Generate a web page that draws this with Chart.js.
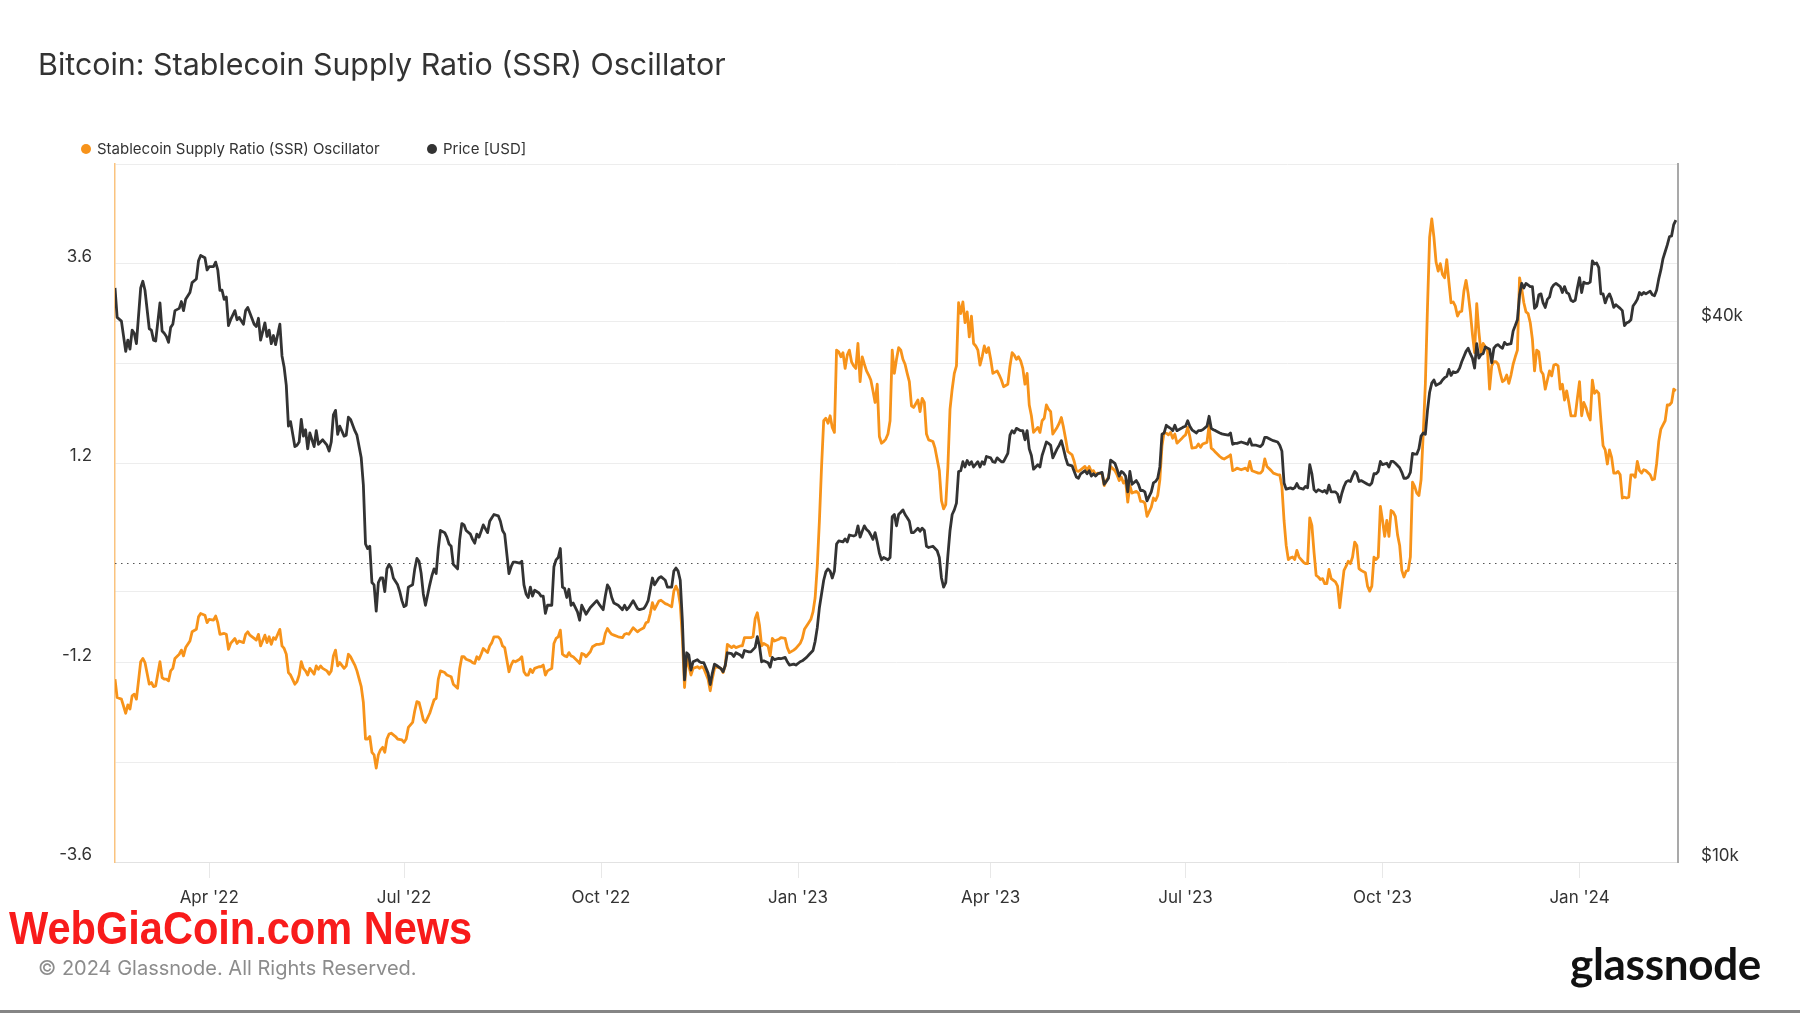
<!DOCTYPE html>
<html>
<head>
<meta charset="utf-8">
<title>Bitcoin: Stablecoin Supply Ratio (SSR) Oscillator</title>
<script src="https://cdn.jsdelivr.net/npm/chart.js@4.4.0/dist/chart.umd.min.js"></script>
<style>
  html, body { margin: 0; padding: 0; background: #fff; }
  #page { position: relative; width: 1800px; height: 1013px; overflow: hidden; font-family: Inter, "Noto Sans", sans-serif; color: #333; }
  #chart { position: absolute; left: 0; top: 0; }
  .title { position: absolute; left: 38px; top: 46px; font-size: 30.4px; line-height: 36px; color: #333; white-space: nowrap; }
  .legend { position: absolute; top: 140px; font-size: 15px; line-height: 18px; color: #333; white-space: nowrap; }
  .legend .dot { position: absolute; left: -16px; top: 4px; width: 10px; height: 10px; border-radius: 50%; }
  .brand { position: absolute; left: 9px; top: 905px; font-family: "Liberation Sans", "DejaVu Sans", sans-serif; font-weight: bold; font-size: 46px; line-height: 46px; color: #f81b1b; transform-origin: left center; white-space: nowrap; }
  .copy { position: absolute; left: 38px; top: 956px; font-size: 20px; line-height: 24px; color: #8c8c8c; white-space: nowrap; }
  .logo { position: absolute; left: 1570px; top: 938px; font-family: Lato, "Open Sans", sans-serif; font-weight: 700; font-size: 44px; line-height: 50px; color: #111; white-space: nowrap; letter-spacing: -0.3px; }
  .rule { position: absolute; left: 0; top: 1010px; width: 1800px; height: 3px; background: #858585; }
</style>
</head>
<body>
<div id="page">
  <canvas id="chart" width="1800" height="1013"></canvas>
  <div class="title">Bitcoin: Stablecoin Supply Ratio (SSR) Oscillator</div>
  <div class="legend" style="left:97px"><span class="dot" style="background:#f7931a"></span>Stablecoin Supply Ratio (SSR) Oscillator</div>
  <div class="legend" style="left:443px"><span class="dot" style="background:#333"></span>Price [USD]</div>
  <div class="brand" id="brand">WebGiaCoin.com News</div>
  <div class="copy">© 2024 Glassnode. All Rights Reserved.</div>
  <div class="logo">glassnode</div>
  <div class="rule"></div>
</div>
<script>
// days counted from the first day shown on the chart
const startDate = "2022-02-16";
const endDate = "2024-02-16";

// x axis labels
const xTickDates = ["2022-04-01", "2022-07-01", "2022-10-01", "2023-01-01", "2023-04-01", "2023-07-01", "2023-10-01", "2024-01-01"];
const xTickLabels = ["Apr '22", "Jul '22", "Oct '22", "Jan '23", "Apr '23", "Jul '23", "Oct '23", "Jan '24"];

// left axis (oscillator)
const ssrGridValues = [-3.6, -2.4, -1.2, 0, 1.2, 2.4, 3.6, 4.8];
const ssrTickLabels = [3.6, 1.2, -1.2, -3.6];

// right axis (price, log)
const priceTickValues = [10000, 20000, 40000];
const priceTickText = ["$10k", "", "$40k"];

// Price [USD]
const priceDays = [
  0, 1, 3, 5, 6, 7, 8, 9, 10, 12,
  13, 14, 16, 17, 18, 19, 21, 22, 23, 24,
  25, 26, 27, 28, 30, 31, 32, 33, 35, 36,
  38, 39, 40, 42, 43, 44, 46, 47, 48, 49,
  50, 51, 52, 53, 54, 56, 57, 58, 60, 61,
  62, 63, 65, 66, 67, 68, 70, 71, 72, 73,
  74, 75, 77, 78, 79, 80, 81, 82, 84, 85,
  86, 87, 88, 89, 90, 91, 93, 94, 95, 96,
  97, 99, 100, 101, 102, 103, 104, 105, 107, 108,
  109, 110, 112, 113, 115, 116, 117, 118, 119, 120,
  121, 122, 123, 124, 125, 126, 127, 128, 129, 130,
  132, 133, 134, 135, 136, 137, 139, 140, 141, 142,
  143, 144, 145, 147, 148, 149, 150, 151, 152, 154,
  155, 156, 157, 158, 160, 161, 162, 163, 164, 166,
  167, 168, 169, 170, 171, 172, 174, 175, 176, 177,
  179, 180, 181, 182, 184, 185, 186, 187, 189, 190,
  191, 192, 193, 194, 195, 196, 198, 199, 200, 201,
  202, 204, 205, 206, 207, 208, 209, 210, 211, 212,
  213, 214, 216, 217, 218, 219, 220, 222, 223, 225,
  226, 228, 229, 230, 231, 232, 233, 235, 237, 238,
  239, 240, 242, 244, 245, 247, 248, 249, 250, 251,
  252, 254, 255, 257, 258, 260, 261, 262, 263, 264,
  265, 266, 267, 268, 269, 270, 272, 273, 274, 275,
  277, 278, 279, 280, 281, 283, 284, 285, 286, 288,
  289, 290, 292, 293, 294, 296, 297, 299, 300, 301,
  302, 303, 305, 306, 307, 308, 310, 311, 313, 314,
  315, 317, 318, 320, 321, 323, 324, 326, 327, 328,
  329, 331, 332, 333, 334, 335, 336, 337, 338, 340,
  341, 342, 343, 345, 346, 347, 348, 349, 350, 351,
  352, 353, 354, 355, 356, 357, 358, 359, 361, 362,
  363, 364, 365, 366, 367, 368, 369, 370, 371, 372,
  373, 375, 376, 377, 378, 379, 380, 382, 384, 385,
  386, 387, 388, 389, 390, 391, 392, 393, 394, 395,
  396, 397, 398, 399, 400, 401, 403, 404, 405, 406,
  407, 409, 410, 411, 412, 414, 415, 417, 418, 419,
  420, 421, 423, 424, 425, 426, 427, 428, 429, 430,
  431, 432, 433, 434, 435, 436, 437, 438, 440, 441,
  442, 443, 444, 445, 447, 448, 449, 450, 451, 453,
  454, 455, 456, 457, 458, 459, 461, 462, 463, 464,
  465, 467, 468, 469, 470, 471, 472, 473, 474, 475,
  477, 478, 479, 480, 481, 482, 484, 485, 486, 487,
  488, 489, 490, 491, 492, 493, 494, 495, 496, 498,
  499, 500, 501, 502, 503, 505, 506, 507, 508, 510,
  511, 512, 513, 514, 516, 517, 518, 520, 521, 522,
  523, 524, 526, 528, 529, 530, 531, 533, 535, 536,
  537, 538, 540, 541, 543, 544, 545, 546, 547, 549,
  550, 551, 552, 553, 555, 556, 557, 558, 559, 560,
  561, 562, 564, 565, 566, 567, 568, 570, 571, 572,
  573, 574, 575, 576, 577, 578, 579, 580, 581, 582,
  584, 585, 586, 587, 588, 589, 590, 591, 592, 594,
  595, 596, 597, 598, 600, 601, 602, 603, 604, 605,
  606, 607, 608, 609, 610, 611, 612, 613, 614, 615,
  616, 617, 619, 620, 621, 622, 623, 624, 625, 626,
  627, 628, 629, 631, 632, 633, 634, 635, 636, 637,
  638, 639, 640, 642, 643, 644, 645, 646, 647, 648,
  649, 650, 652, 653, 654, 655, 656, 657, 658, 659,
  661, 662, 663, 664, 665, 666, 667, 668, 669, 670,
  671, 672, 673, 675, 676, 677, 678, 679, 680, 681,
  682, 683, 684, 685, 686, 687, 688, 689, 690, 691,
  692, 693, 694, 695, 696, 697, 698, 699, 700, 701,
  703, 704, 705, 706, 707, 708, 709, 710, 711, 712,
  713, 714, 715, 717, 718, 719, 720, 721, 722, 723,
  724, 725, 726, 727, 728, 729
];
const priceUsd = [
  43650, 40470, 40090, 37090, 38180, 37300, 39170, 38850, 37830, 43650,
  44410, 43390, 39310, 39170, 38180, 38090, 42000, 39080, 38850, 38540,
  37960, 39450, 39770, 41180, 41420, 42150, 41180, 42390, 43140, 44250,
  44670, 46800, 47450, 47180, 45720, 46100, 46100, 46640, 45720, 43390,
  43390, 42390, 42640, 39630, 40230, 41180, 40230, 40470, 39770, 41180,
  41520, 40940, 39770, 39540, 40380, 38180, 39910, 38540, 39170, 37830,
  38630, 37740, 39770, 36660, 35610, 33990, 30610, 30970, 29050, 29150,
  29390, 31150, 29840, 30330, 28880, 30080, 29050, 30260, 29220, 29390,
  29560, 29150, 28710, 29390, 31510, 31880, 29980, 30610, 29840, 29910,
  31330, 31150, 30260, 29910, 28220, 26310, 22620, 22360, 22490, 20490,
  20370, 19040, 20490, 20730, 20730, 20020, 21220, 21470, 21270, 20730,
  20370, 20020, 19560, 19260, 19330, 20250, 20370, 21220, 21800, 21640,
  20970, 19900, 19330, 20370, 20850, 21220, 20970, 22360, 23420, 23290,
  23020, 22620, 22490, 21470, 21220, 22890, 23840, 23760, 23420, 23200,
  22890, 22670, 23200, 23020, 23370, 23760, 23290, 23980, 24200, 24400,
  24320, 23980, 23420, 23200, 20970, 21340, 21590, 21590, 21540, 21640,
  20370, 19900, 19720, 20250, 19790, 20090, 19950, 19790, 19790, 18930,
  19330, 19330, 21340, 21720, 21850, 22360, 20250, 20180, 19720, 20140,
  19330, 19440, 19000, 18600, 19330, 19110, 18890, 19220, 19330, 19560,
  19400, 19110, 19790, 20370, 20180, 19720, 19440, 19330, 19110, 19330,
  19110, 19220, 19560, 19170, 19110, 19170, 19330, 19560, 20140, 20730,
  20370, 20730, 20800, 20610, 20250, 20250, 21100, 21270, 21100, 20610,
  18560, 15960, 17110, 17010, 16370, 16720, 16810, 16720, 16680, 16680,
  16240, 15770, 16240, 16620, 16560, 16430, 16300, 16560, 17110, 17070,
  16950, 17110, 17010, 16910, 17210, 17150, 17150, 17350, 17830, 17410,
  16720, 16760, 16680, 16490, 16910, 16810, 16870, 16850, 16910, 16720,
  16580, 16620, 16580, 16720, 16760, 16910, 17010, 17210, 17620, 18250,
  19220, 20610, 21060, 21220, 21100, 20730, 21100, 22620, 22800, 22740,
  22920, 22740, 23150, 23090, 23150, 23700, 23020, 23370, 23700, 23480,
  23370, 23150, 22890, 23290, 22740, 22100, 21720, 21850, 21720, 21850,
  24260, 24400, 23700, 24400, 24540, 24690, 24400, 24200, 23980, 23290,
  23290, 23560, 23370, 23560, 23420, 22490, 22420, 22490, 22230, 21850,
  20730, 20250, 20490, 21970, 23420, 24400, 24690, 25120, 27250, 27300,
  27940, 27570, 28030, 27730, 27940, 27570, 27940, 27570, 27940, 27760,
  28320, 28220, 27940, 27890, 28220, 27940, 27940, 28550, 29910, 30260,
  30080, 30440, 30260, 30260, 29560, 30260, 28880, 28390, 27410, 27570,
  27730, 27570, 28390, 28880, 29390, 29290, 29150, 28220, 28880, 29150,
  29490, 28880, 28220, 27730, 27650, 27250, 26870, 26780, 27090, 27300,
  27090, 27300, 26930, 27090, 26930, 27090, 27190, 26370, 26560, 26780,
  28060, 27830, 27410, 26930, 27250, 27150, 26930, 25860, 27250, 26370,
  26620, 26370, 25950, 25950, 25860, 25270, 25860, 26460, 26560, 26780,
  27570, 29980, 30080, 30680, 30540, 30440, 30260, 30680, 30260, 30440,
  30540, 30610, 31040, 30610, 30330, 30080, 30260, 30260, 30330, 30610,
  31400, 30440, 30330, 30260, 30080, 30010, 29980, 29910, 30080, 29220,
  29290, 29290, 29390, 29290, 29220, 29630, 29150, 29150, 29050, 29220,
  29740, 29740, 29560, 29490, 29390, 29150, 28710, 26460, 26040, 26130,
  26060, 26130, 26420, 26130, 26040, 26220, 26130, 27730, 27090, 26010,
  25860, 26010, 25860, 25950, 25770, 26310, 25860, 25860, 25710, 25180,
  25770, 26220, 26530, 26620, 26560, 26930, 27250, 27090, 26560, 26620,
  26460, 26370, 26310, 26460, 27090, 27090, 27250, 27960, 27730, 27830,
  27570, 27960, 27960, 27830, 27510, 27190, 26780, 26780, 26870, 27190,
  28550, 28490, 28490, 28880, 29840, 30080, 29980, 31880, 33400, 34190,
  34470, 33990, 34190, 34470, 34670, 34790, 35410, 34870, 35200, 35120,
  35200, 35530, 36120, 37090, 37390, 36870, 36450, 35530, 37830, 36450,
  36790, 36870, 37520, 37300, 36020, 37390, 37650, 37740, 37520, 37390,
  37960, 37740, 37830, 39080, 39630, 40230, 42890, 44160, 43640, 44160,
  43800, 43800, 41420, 41670, 42890, 42990, 42000, 41520, 42390, 42640,
  43640, 44000, 44160, 43800, 43140, 43800, 43140, 42990, 42290, 42150,
  42290, 43640, 44830, 43140, 44310, 44160, 44160, 44310, 46800, 46420,
  46530, 45990, 42990, 42990, 42000, 42640, 42990, 42390, 41520, 41810,
  41420, 41180, 39630, 39910, 40000, 40230, 41670, 42000, 42390, 43140,
  42890, 43140, 42990, 43290, 42890, 42790, 43390, 44670, 45720, 47070,
  47900, 48750, 49780, 49890, 51360, 51960
];

// Stablecoin Supply Ratio (SSR) Oscillator
const ssrDays = [
  0, 1, 3, 5, 6, 7, 8, 9, 10, 12,
  13, 14, 16, 17, 18, 19, 21, 22, 23, 24,
  25, 26, 27, 28, 30, 31, 32, 33, 35, 36,
  38, 39, 40, 42, 43, 44, 46, 47, 48, 49,
  51, 52, 53, 54, 56, 57, 58, 60, 61, 62,
  63, 65, 66, 67, 68, 70, 71, 72, 73, 74,
  75, 77, 78, 79, 80, 81, 82, 84, 85, 86,
  87, 88, 89, 90, 91, 93, 94, 95, 96, 97,
  99, 100, 101, 102, 103, 104, 105, 107, 108, 109,
  110, 112, 113, 115, 116, 117, 118, 119, 120, 121,
  122, 123, 124, 125, 126, 127, 128, 129, 131, 132,
  134, 135, 136, 137, 139, 140, 141, 142, 143, 144,
  145, 147, 148, 149, 150, 151, 152, 154, 155, 157,
  158, 160, 161, 162, 163, 164, 166, 167, 168, 169,
  170, 171, 172, 174, 175, 176, 177, 179, 180, 181,
  182, 184, 185, 186, 187, 189, 190, 191, 192, 193,
  194, 195, 196, 198, 199, 200, 201, 202, 204, 205,
  206, 207, 208, 209, 210, 211, 212, 213, 214, 216,
  217, 218, 219, 220, 222, 223, 225, 226, 228, 229,
  230, 231, 232, 233, 235, 237, 238, 239, 240, 242,
  244, 245, 247, 248, 249, 250, 251, 252, 254, 255,
  257, 258, 260, 261, 262, 263, 264, 265, 266, 267,
  268, 269, 270, 272, 273, 274, 275, 277, 278, 279,
  280, 281, 283, 284, 285, 286, 288, 289, 290, 292,
  293, 294, 296, 297, 298, 299, 300, 301, 302, 303,
  305, 306, 307, 308, 310, 311, 313, 314, 315, 317,
  318, 320, 321, 322, 324, 325, 326, 327, 328, 329,
  330, 331, 332, 333, 334, 335, 336, 337, 338, 339,
  340, 341, 342, 343, 344, 345, 346, 347, 348, 349,
  350, 351, 352, 353, 354, 355, 356, 357, 358, 359,
  360, 361, 362, 363, 364, 365, 366, 367, 368, 369,
  370, 371, 372, 373, 375, 376, 377, 378, 379, 380,
  382, 383, 385, 386, 387, 388, 389, 390, 391, 392,
  393, 394, 395, 396, 397, 398, 399, 400, 401, 402,
  403, 404, 405, 406, 407, 408, 409, 410, 412, 413,
  414, 415, 417, 418, 419, 420, 421, 422, 423, 424,
  425, 426, 427, 428, 429, 430, 431, 432, 433, 434,
  435, 436, 437, 438, 440, 441, 442, 443, 444, 445,
  447, 448, 449, 450, 451, 453, 454, 455, 456, 457,
  458, 459, 461, 462, 463, 464, 465, 467, 468, 469,
  470, 471, 472, 473, 474, 475, 477, 478, 479, 480,
  481, 482, 484, 485, 486, 487, 488, 489, 490, 491,
  492, 493, 494, 495, 496, 498, 499, 500, 501, 502,
  503, 505, 506, 507, 508, 510, 511, 512, 513, 514,
  516, 517, 518, 520, 521, 522, 523, 524, 526, 528,
  529, 530, 531, 532, 534, 535, 536, 537, 538, 540,
  541, 543, 544, 545, 546, 547, 548, 549, 550, 551,
  552, 553, 555, 556, 557, 558, 559, 560, 561, 562,
  563, 564, 565, 566, 567, 568, 570, 571, 572, 573,
  574, 575, 576, 577, 578, 579, 580, 581, 582, 584,
  585, 586, 587, 588, 589, 590, 591, 592, 593, 594,
  595, 596, 597, 598, 599, 600, 601, 602, 603, 604,
  605, 606, 607, 608, 609, 610, 611, 612, 613, 614,
  615, 616, 617, 618, 619, 620, 621, 622, 623, 624,
  625, 626, 627, 628, 629, 630, 631, 632, 633, 634,
  635, 636, 637, 638, 639, 640, 641, 642, 643, 644,
  645, 646, 647, 648, 649, 650, 651, 652, 653, 654,
  655, 656, 657, 658, 659, 660, 661, 662, 663, 664,
  665, 666, 667, 668, 669, 670, 671, 672, 673, 674,
  675, 676, 677, 678, 679, 680, 681, 682, 683, 684,
  685, 686, 687, 688, 689, 690, 691, 692, 693, 694,
  695, 696, 697, 698, 699, 700, 701, 702, 703, 704,
  705, 706, 707, 708, 709, 710, 711, 712, 713, 714,
  715, 717, 718, 719, 720, 721, 722, 723, 724, 725,
  726, 727, 728, 729
];
const ssrValues = [
  -1.40, -1.62, -1.64, -1.81, -1.71, -1.76, -1.60, -1.58, -1.64, -1.19,
  -1.15, -1.20, -1.46, -1.44, -1.49, -1.48, -1.19, -1.38, -1.40, -1.40,
  -1.42, -1.30, -1.27, -1.15, -1.10, -1.05, -1.12, -1.02, -0.94, -0.83,
  -0.80, -0.65, -0.61, -0.63, -0.72, -0.68, -0.69, -0.64, -0.72, -0.86,
  -0.85, -0.86, -1.04, -0.97, -0.91, -0.97, -0.94, -0.96, -0.86, -0.83,
  -0.87, -0.91, -0.93, -0.86, -1.00, -0.87, -0.96, -0.89, -0.98, -0.90,
  -0.92, -0.80, -1.00, -1.03, -1.10, -1.32, -1.35, -1.46, -1.43, -1.35,
  -1.19, -1.27, -1.30, -1.35, -1.27, -1.34, -1.24, -1.28, -1.24, -1.27,
  -1.30, -1.34, -1.30, -1.12, -1.05, -1.24, -1.20, -1.27, -1.24, -1.10,
  -1.13, -1.23, -1.30, -1.49, -1.68, -2.12, -2.12, -2.09, -2.28, -2.31,
  -2.47, -2.31, -2.25, -2.22, -2.28, -2.12, -2.06, -2.05, -2.09, -2.12,
  -2.13, -2.16, -2.12, -1.98, -1.92, -1.78, -1.67, -1.68, -1.78, -1.89,
  -1.92, -1.81, -1.73, -1.65, -1.63, -1.40, -1.30, -1.32, -1.35, -1.37,
  -1.46, -1.51, -1.27, -1.13, -1.13, -1.16, -1.18, -1.20, -1.21, -1.13,
  -1.16, -1.10, -1.03, -1.08, -1.00, -0.96, -0.89, -0.89, -0.92, -1.00,
  -1.02, -1.31, -1.23, -1.18, -1.19, -1.16, -1.13, -1.31, -1.35, -1.35,
  -1.28, -1.32, -1.27, -1.25, -1.25, -1.23, -1.35, -1.30, -1.27, -0.97,
  -0.91, -0.89, -0.81, -1.10, -1.12, -1.13, -1.08, -1.12, -1.13, -1.18,
  -1.21, -1.09, -1.10, -1.13, -1.07, -1.01, -0.98, -0.98, -0.97, -0.85,
  -0.79, -0.83, -0.86, -0.87, -0.89, -0.90, -0.86, -0.85, -0.86, -0.78,
  -0.83, -0.81, -0.78, -0.72, -0.71, -0.61, -0.48, -0.56, -0.46, -0.45,
  -0.49, -0.50, -0.53, -0.34, -0.28, -0.34, -0.50, -0.91, -1.50, -1.13,
  -1.24, -1.35, -1.27, -1.25, -1.27, -1.25, -1.27, -1.40, -1.54, -1.39,
  -1.27, -1.25, -1.27, -1.32, -1.24, -0.98, -1.02, -1.00, -1.02, -1.00,
  -1.00, -0.90, -0.90, -0.90, -0.89, -0.67, -0.60, -0.75, -1.00, -0.97,
  -1.00, -1.12, -0.91, -0.94, -0.92, -0.90, -0.91, -1.02, -1.08, -1.05,
  -1.03, -0.97, -0.91, -0.80, -0.72, -0.68, -0.59, -0.42, -0.04, 0.51,
  1.16, 1.71, 1.74, 1.68, 1.77, 1.63, 1.57, 2.56, 2.54, 2.48,
  2.53, 2.34, 2.50, 2.56, 2.42, 2.37, 2.34, 2.64, 2.18, 2.48,
  2.39, 2.31, 2.26, 2.20, 2.07, 1.93, 2.15, 1.52, 1.44, 1.46,
  1.49, 1.55, 1.71, 2.56, 2.28, 2.45, 2.59, 2.56, 2.45, 2.39,
  2.28, 2.18, 1.89, 1.87, 1.96, 1.82, 1.98, 1.93, 1.55, 1.48,
  1.46, 1.38, 1.11, 0.75, 0.65, 0.70, 1.16, 1.85, 2.09, 2.28,
  2.37, 3.13, 3.00, 3.14, 2.89, 3.02, 2.72, 2.97, 2.64, 2.61,
  2.56, 2.38, 2.48, 2.61, 2.53, 2.59, 2.45, 2.28, 2.31, 2.26,
  2.20, 2.12, 2.15, 2.37, 2.53, 2.50, 2.45, 2.48, 2.43, 2.34,
  2.15, 2.28, 1.90, 1.77, 1.57, 1.60, 1.63, 1.57, 1.71, 1.74,
  1.90, 1.85, 1.82, 1.55, 1.63, 1.68, 1.75, 1.63, 1.49, 1.34,
  1.30, 1.22, 1.11, 1.10, 1.12, 1.16, 1.11, 1.16, 1.10, 1.11,
  1.06, 1.08, 1.07, 0.93, 0.99, 1.03, 1.16, 1.11, 1.06, 0.99,
  1.03, 0.96, 0.99, 0.73, 0.93, 0.84, 0.86, 0.84, 0.74, 0.74,
  0.72, 0.56, 0.67, 0.78, 0.75, 0.81, 1.00, 1.41, 1.57, 1.56,
  1.54, 1.57, 1.50, 1.55, 1.44, 1.49, 1.52, 1.54, 1.63, 1.52,
  1.38, 1.39, 1.43, 1.39, 1.43, 1.45, 1.66, 1.38, 1.36, 1.33,
  1.28, 1.26, 1.25, 1.28, 1.30, 1.11, 1.12, 1.14, 1.12, 1.14,
  1.11, 1.22, 1.11, 1.10, 1.08, 1.08, 1.11, 1.25, 1.16, 1.11,
  1.08, 1.06, 1.06, 0.92, 0.51, 0.21, 0.04, 0.06, 0.07, 0.04,
  0.15, 0.07, 0.01, -0.01, -0.01, 0.54, 0.45, 0.13, -0.15, -0.17,
  -0.20, -0.19, -0.25, -0.25, -0.08, -0.19, -0.23, -0.28, -0.54, -0.31,
  -0.09, -0.04, 0.02, -0.01, 0.07, 0.25, 0.21, -0.07, -0.09, -0.12,
  -0.28, -0.34, -0.28, 0.07, 0.04, 0.07, 0.68, 0.51, 0.32, 0.51,
  0.32, 0.63, 0.61, 0.56, 0.34, 0.21, -0.09, -0.17, -0.10, -0.09,
  0.07, 0.97, 0.92, 0.84, 0.81, 1.00, 1.55, 2.15, 3.08, 3.92,
  4.14, 3.92, 3.62, 3.51, 3.60, 3.47, 3.43, 3.65, 3.38, 3.13,
  3.14, 3.09, 2.97, 3.02, 3.03, 3.27, 3.40, 3.24, 3.02, 2.75,
  2.53, 3.12, 2.78, 2.53, 2.64, 2.60, 2.56, 2.09, 2.37, 2.42,
  2.42, 2.39, 2.28, 2.18, 2.20, 2.26, 2.16, 2.26, 2.39, 2.48,
  2.56, 3.43, 3.30, 3.13, 3.02, 3.00, 2.89, 2.69, 2.31, 2.56,
  2.54, 2.31, 2.27, 2.09, 2.20, 2.31, 2.25, 2.38, 2.39, 2.37,
  2.09, 2.15, 1.96, 2.07, 1.93, 1.77, 1.77, 1.77, 1.98, 2.18,
  1.77, 1.93, 1.87, 1.78, 1.72, 2.20, 2.04, 2.07, 2.04, 1.71,
  1.41, 1.36, 1.19, 1.36, 1.27, 1.08, 1.08, 1.10, 1.06, 0.78,
  0.79, 0.78, 0.79, 1.06, 1.06, 1.03, 1.22, 1.11, 1.08, 1.12,
  1.11, 1.06, 1.00, 1.01, 1.19, 1.46, 1.61, 1.66, 1.71, 1.90,
  1.90, 1.93, 2.09, 2.07
];

const DAY = 86400000;
function dayOf(dateStr) {
  return Math.round((Date.parse(dateStr) - Date.parse(startDate)) / DAY);
}
const xTickDays = xTickDates.map(dayOf);

// squeeze the red banner text to the width it has in the picture
const brand = document.getElementById("brand");
brand.style.transform = "scaleX(" + (463 / brand.offsetWidth).toFixed(3) + ")";

// dotted zero line of the oscillator
const zeroLine = {
  id: "zeroLine",
  beforeDatasetsDraw(chart) {
    const { ctx, chartArea, scales } = chart;
    const y = Math.round(scales.y.getPixelForValue(0)) + 0.5;
    ctx.save();
    ctx.strokeStyle = "#555555";
    ctx.lineWidth = 1;
    ctx.setLineDash([1.5, 4.5]);
    ctx.beginPath();
    ctx.moveTo(chartArea.left, y);
    ctx.lineTo(chartArea.right, y);
    ctx.stroke();
    ctx.restore();
  }
};

Chart.defaults.font.family = "Inter, 'Noto Sans', sans-serif";
Chart.defaults.color = "#333";

const ctx = document.getElementById("chart").getContext("2d");
const chart = new Chart(ctx, {
  type: "line",
  data: {
    datasets: [
      {
        label: "Price [USD]",
        data: priceDays.map((d, i) => ({ x: d, y: priceUsd[i] })),
        yAxisID: "price",
        borderColor: "#333333",
        borderWidth: 2.8,
        pointRadius: 0,
        tension: 0,
        borderJoinStyle: "round",
        order: 0
      },
      {
        label: "Stablecoin Supply Ratio (SSR) Oscillator",
        data: ssrDays.map((d, i) => ({ x: d, y: ssrValues[i] })),
        yAxisID: "y",
        borderColor: "#f7931a",
        borderWidth: 2.8,
        pointRadius: 0,
        tension: 0,
        borderJoinStyle: "round",
        order: 1
      }
    ]
  },
  plugins: [zeroLine],
  options: {
    responsive: false,
    animation: false,
    devicePixelRatio: 1,
    layout: { padding: { top: 164, bottom: 91, left: 0, right: 0 } },
    plugins: {
      legend: { display: false },
      tooltip: { enabled: false }
    },
    scales: {
      x: {
        type: "linear",
        min: 0,
        max: dayOf(endDate),
        afterBuildTicks: (scale) => {
          scale.ticks = xTickDays.map((v) => ({ value: v }));
        },
        afterFit: (scale) => { scale.height = 60; },
        ticks: {
          autoSkip: false,
          maxRotation: 0,
          padding: 10,
          font: { size: 17 },
          color: "#333",
          callback: (value) => xTickLabels[xTickDays.indexOf(value)]
        },
        grid: { drawOnChartArea: false, drawTicks: true, tickLength: 16, color: "#e8e8e8" },
        border: { color: "#e2e2e2", width: 1 }
      },
      y: {
        type: "linear",
        position: "left",
        min: -3.6,
        max: 4.8,
        afterBuildTicks: (scale) => {
          scale.ticks = ssrGridValues.map((v) => ({ value: v }));
        },
        afterFit: (scale) => { scale.width = 115; },
        ticks: {
          padding: 23,
          labelOffset: -7,
          font: { size: 17 },
          color: "#333",
          callback: (value) => {
            const v = Math.round(value * 10) / 10;
            return ssrTickLabels.includes(v) ? v.toFixed(1) : "";
          }
        },
        grid: {
          drawTicks: false,
          color: (c) => (Math.abs(c.tick.value) < 1e-9 ? "rgba(0,0,0,0)" : "#ededed"),
          lineWidth: 1
        },
        border: { color: "#fac37f", width: 1.5 }
      },
      price: {
        type: "logarithmic",
        position: "right",
        min: 10000,
        max: 60000,
        afterBuildTicks: (scale) => {
          scale.ticks = priceTickValues.map((v) => ({ value: v }));
        },
        afterFit: (scale) => { scale.width = 122; },
        ticks: {
          padding: 23,
          labelOffset: -6,
          font: { size: 17 },
          color: "#333",
          callback: (value) => priceTickText[priceTickValues.indexOf(value)]
        },
        grid: { drawTicks: false, color: "#ededed", lineWidth: 1 },
        border: { color: "#a9a9a9", width: 2 }
      }
    }
  }
});
</script>
</body>
</html>
